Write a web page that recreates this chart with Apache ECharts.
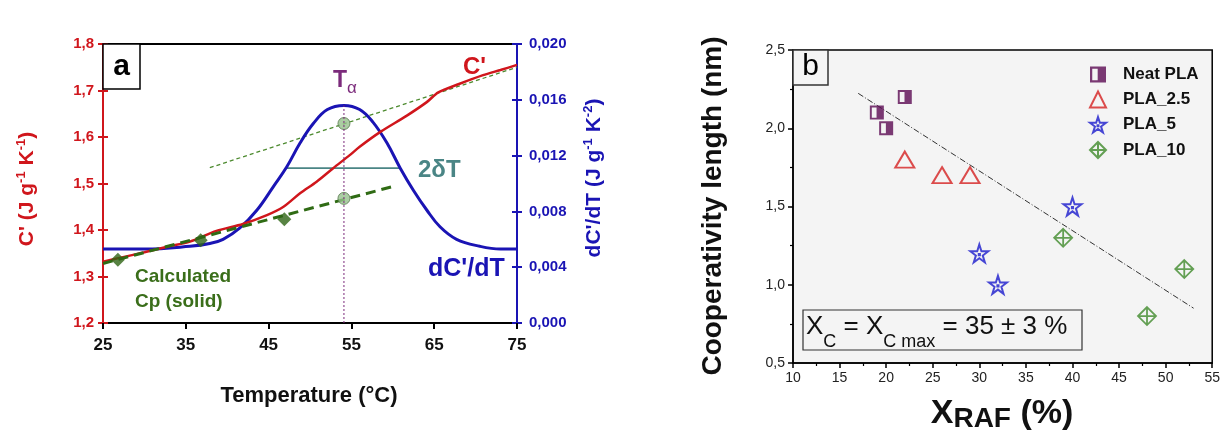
<!DOCTYPE html>
<html><head><meta charset="utf-8">
<script src="https://cdn.jsdelivr.net/npm/echarts@6/dist/echarts.min.js"></script>
<style>html,body{margin:0;padding:0;background:#fff}#c{width:1223px;height:433px}</style>
</head><body><div id="c"></div>
<script>
// ---------- Panel a data ----------
const tempC = [25, 27, 30, 33, 35.5, 38.7, 41.9, 44.8, 46.8, 48.8, 50.8, 52.8, 54.8, 56.0, 58.5, 61.7, 64.1, 65.5, 68, 70.9, 73, 75];
const cPrime = [1.332, 1.340, 1.352, 1.365, 1.375, 1.398, 1.413, 1.432, 1.450, 1.479, 1.504, 1.533, 1.561, 1.579, 1.611, 1.646, 1.675, 1.696, 1.714, 1.733, 1.744, 1.755];
const tempD = [25, 30, 35.5, 37.9, 39.5, 41.5, 43.6, 45.6, 47.2, 48.8, 50.4, 52.1, 54.1, 56.0, 57.6, 59.3, 60.9, 62.5, 64.1, 65.7, 67.7, 70.5, 73, 75];
const dCdT = [0.0053, 0.0053, 0.0055, 0.0057, 0.0060, 0.0068, 0.0081, 0.0098, 0.0112, 0.0129, 0.0143, 0.0153, 0.0156, 0.0153, 0.0144, 0.0129, 0.0111, 0.0095, 0.0081, 0.0069, 0.0060, 0.0055, 0.0053, 0.0053];
const cpPointsT = [26.8, 36.8, 46.9];
const cpPoints = [1.336, 1.378, 1.423];
const cpLineT = [25, 59.9];
const cpLine = [1.328, 1.493];
const liquidLineT = [37.9, 75];
const liquidLine = [1.534, 1.750];
const tAlpha = 54.1;
const tAlphaC = [1.629, 1.468];
const peakLevel = 0.0156;
const halfWidthT = [47.2, 60.9];
const halfWidthLevel = 0.0111;
const tempTicks = [25, 75, 10];
const cTicks = [1.2, 1.8, 0.1];
const dTicks = [0, 0.020, 0.004];

// ---------- Panel b data ----------
const neatX = [19, 20, 22];      const neatY = [2.1, 2.0, 2.2];
const pla25X = [22, 26, 29];     const pla25Y = [1.8, 1.7, 1.7];
const pla5X = [30, 32, 40];      const pla5Y = [1.2, 1.0, 1.5];
const pla10X = [39, 48, 52];     const pla10Y = [1.3, 0.8, 1.1];
const fitX = [17.0, 53.0];       const fitY = [2.223, 0.850];
const rafTicks = [10, 55, 5];
const lenTicks = [0.5, 2.5, 0.5];
const legendNames = ['Neat PLA', 'PLA_2.5', 'PLA_5', 'PLA_10'];

const zip = (a, b) => a.map((v, i) => [v, b[i]]);
const FONT = "'Liberation Sans', Arial, sans-serif";
const RED = '#d0161c', BLUE = '#1a14b4', GREEN = '#2f6b14', PURPLE = '#7b2a7b', TEAL = '#4a8585';
const comma = d => v => v.toFixed(d).replace('.', ',');

// text runs with sub/superscripts, laid out by measured widths
const mctx = document.createElement('canvas').getContext('2d');
function textRun(x, y, rotation, align, pieces) {
  const widths = pieces.map(p => { mctx.font = p.font; return mctx.measureText(p.text).width; });
  const total = widths.reduce((a, b) => a + b, 0);
  let cx = align === 'center' ? -total / 2 : 0;
  const children = pieces.map((p, i) => {
    const el = {type: 'text', x: cx, y: p.dy || 0, z: 11,
      style: {text: p.text, font: p.font, fill: p.fill, align: 'left', verticalAlign: 'middle'}};
    cx += widths[i];
    return el;
  });
  return {type: 'group', x: x, y: y, rotation: rotation || 0, children: children};
}

const chart = echarts.init(document.getElementById('c'), null, {renderer: 'canvas'});

const halfSquare = 'path://M0,0 L100,0 L100,100 L0,100 Z M14,14 L14,86 L48,86 L48,14 Z';
const starPath = 'path://M50,2 L61,36 L97,36 L68,58 L79,93 L50,72 L21,93 L32,58 L3,36 L39,36 Z M47,50 L53,50 L53,56 L47,56 Z';
const diamondCross = 'path://M50,0 L100,50 L50,100 L0,50 Z M50,0 L50,100 M0,50 L100,50';
const BG_B = '#f4f4f4';

const fB = s => 'bold ' + s + 'px ' + FONT;
const fN = s => s + 'px ' + FONT;

const option = {
  animation: false,
  backgroundColor: '#fff',
  textStyle: {fontFamily: FONT},
  grid: [
    {left: 103, top: 44, width: 414, height: 279, show: true, borderColor: '#000', borderWidth: 2, backgroundColor: 'transparent'},
    {left: 793, top: 50, width: 421, height: 313, show: true, borderColor: '#000', borderWidth: 1.5, backgroundColor: BG_B}
  ],
  xAxis: [
    {gridIndex: 0, type: 'value', min: tempTicks[0], max: tempTicks[1], interval: tempTicks[2],
     axisLine: {lineStyle: {color: '#000', width: 2}},
     axisTick: {length: 6, lineStyle: {color: '#000', width: 2}},
     axisLabel: {fontSize: 17, fontWeight: 'bold', color: '#111', margin: 14, fontFamily: FONT},
     splitLine: {show: false}},
    {gridIndex: 1, type: 'value', min: rafTicks[0], max: rafTicks[1], interval: rafTicks[2],
     axisLine: {lineStyle: {color: '#000', width: 1.5}},
     axisTick: {length: 5, lineStyle: {color: '#000', width: 1.5}},
     minorTick: {show: true, splitNumber: 2, length: 3, lineStyle: {color: '#000', width: 1.2}},
     axisLabel: {fontSize: 14, color: '#222', margin: 8, fontFamily: FONT},
     splitLine: {show: false}, minorSplitLine: {show: false}}
  ],
  yAxis: [
    {gridIndex: 0, type: 'value', position: 'left', min: cTicks[0], max: cTicks[1], interval: cTicks[2],
     axisLine: {show: true, lineStyle: {color: RED, width: 2}},
     axisTick: {show: true, length: 5, lineStyle: {color: RED, width: 2}},
     axisLabel: {fontSize: 15, fontWeight: 'bold', color: RED, margin: 9, formatter: comma(1), fontFamily: FONT},
     splitLine: {show: false}},
    {gridIndex: 0, type: 'value', position: 'right', min: dTicks[0], max: dTicks[1], interval: dTicks[2],
     axisLine: {show: true, lineStyle: {color: BLUE, width: 2}},
     axisTick: {show: true, length: 5, lineStyle: {color: BLUE, width: 2}},
     axisLabel: {fontSize: 15, fontWeight: 'bold', color: BLUE, margin: 12, formatter: comma(3), fontFamily: FONT},
     splitLine: {show: false}},
    {gridIndex: 0, type: 'value', position: 'left', min: cTicks[0], max: cTicks[1], interval: cTicks[2],
     axisLine: {show: true, lineStyle: {color: RED, width: 2}},
     axisTick: {show: true, inside: true, length: 5, lineStyle: {color: RED, width: 2}},
     axisLabel: {show: false}, splitLine: {show: false}},
    {gridIndex: 0, type: 'value', position: 'right', min: dTicks[0], max: dTicks[1], interval: dTicks[2],
     axisLine: {show: true, lineStyle: {color: BLUE, width: 2}},
     axisTick: {show: true, inside: true, length: 5, lineStyle: {color: BLUE, width: 2}},
     axisLabel: {show: false}, splitLine: {show: false}},
    {gridIndex: 1, type: 'value', min: lenTicks[0], max: lenTicks[1], interval: lenTicks[2],
     axisLine: {show: true, lineStyle: {color: '#000', width: 1.5}},
     axisTick: {show: true, length: 5, lineStyle: {color: '#000', width: 1.5}},
     minorTick: {show: true, splitNumber: 2, length: 3, lineStyle: {color: '#000', width: 1.2}},
     axisLabel: {fontSize: 14, color: '#222', margin: 8, formatter: comma(1), fontFamily: FONT},
     splitLine: {show: false}, minorSplitLine: {show: false}}
  ],
  legend: {
    orient: 'vertical', left: 1084, top: 61, itemWidth: 16, itemHeight: 16, itemGap: 7.5,
    data: legendNames,
    textStyle: {fontSize: 17, fontWeight: 'bold', color: '#111', padding: [0, 0, 0, 12], fontFamily: FONT}
  },
  series: [
    // ----- panel a -----
    {name: 'liquid', type: 'line', xAxisIndex: 0, yAxisIndex: 0, data: zip(liquidLineT, liquidLine), symbol: 'none',
     lineStyle: {color: '#4c8a2e', width: 1.3, type: [4, 3]}, z: 2},
    {name: '2dT', type: 'line', xAxisIndex: 0, yAxisIndex: 1, data: halfWidthT.map(t => [t, halfWidthLevel]), symbol: 'none',
     lineStyle: {color: TEAL, width: 1.6}, z: 2},
    {name: "dC'/dT", type: 'line', xAxisIndex: 0, yAxisIndex: 1, data: zip(tempD, dCdT), symbol: 'none', smooth: 0.4,
     lineStyle: {color: BLUE, width: 3}, z: 3},
    {name: "C'", type: 'line', xAxisIndex: 0, yAxisIndex: 0, data: zip(tempC, cPrime), symbol: 'none', smooth: 0.3,
     lineStyle: {color: RED, width: 2.5}, z: 4},
    {name: 'Cp line', type: 'line', xAxisIndex: 0, yAxisIndex: 0, data: zip(cpLineT, cpLine), symbol: 'none',
     lineStyle: {color: GREEN, width: 3, type: [10, 6]}, z: 5},
    {name: 'Cp solid', type: 'scatter', xAxisIndex: 0, yAxisIndex: 0, data: zip(cpPointsT, cpPoints), symbol: 'diamond', symbolSize: [14, 14],
     itemStyle: {color: '#2e6414'}, z: 6},
    {name: 'Tα points', type: 'scatter', xAxisIndex: 0, yAxisIndex: 0, data: tAlphaC.map(c => [tAlpha, c]), symbol: 'circle', symbolSize: 12,
     itemStyle: {color: '#96c08c', borderColor: '#56784c', borderWidth: 1}, z: 6},
    {name: 'Tα line', type: 'line', xAxisIndex: 0, yAxisIndex: 1, data: [[tAlpha, 0], [tAlpha, peakLevel]], symbol: 'none',
     lineStyle: {color: PURPLE, width: 1, type: [2, 2]}, z: 7},
    // ----- panel b -----
    {name: 'fit', type: 'line', xAxisIndex: 1, yAxisIndex: 4, data: zip(fitX, fitY), symbol: 'none',
     lineStyle: {color: '#333', width: 1, type: [6, 2, 1, 2]}, z: 2},
    {name: 'Neat PLA', type: 'scatter', xAxisIndex: 1, yAxisIndex: 4, data: zip(neatX, neatY), symbol: halfSquare, symbolSize: 14,
     itemStyle: {color: '#5b0a52'}, z: 5},
    {name: 'PLA_2.5', type: 'scatter', xAxisIndex: 1, yAxisIndex: 4, data: zip(pla25X, pla25Y), symbol: 'triangle', symbolSize: [19, 16],
     itemStyle: {color: BG_B, borderColor: '#d42020', borderWidth: 2}, z: 5},
    {name: 'PLA_5', type: 'scatter', xAxisIndex: 1, yAxisIndex: 4, data: zip(pla5X, pla5Y), symbol: starPath, symbolSize: 18,
     itemStyle: {color: BG_B, borderColor: '#1a1acc', borderWidth: 2}, z: 5},
    {name: 'PLA_10', type: 'scatter', xAxisIndex: 1, yAxisIndex: 4, data: zip(pla10X, pla10Y), symbol: diamondCross, symbolSize: 18,
     itemStyle: {color: BG_B, borderColor: '#3f8a2a', borderWidth: 1.8}, z: 5}
  ],
  graphic: [
    // panel a label box
    {type: 'rect', shape: {x: 103, y: 44, width: 37, height: 45}, style: {fill: '#fff', stroke: '#000', lineWidth: 1.5}, z: 10},
    {type: 'text', x: 121.5, y: 67, style: {text: 'a', font: fB(30), fill: '#000', align: 'center', verticalAlign: 'middle'}, z: 11},
    // panel a annotations
    textRun(333, 81, 0, 'left', [
      {text: 'T', font: fB(23), fill: PURPLE},
      {text: 'α', font: fN(17), fill: PURPLE, dy: 7}]),
    {type: 'text', x: 463, y: 67, style: {text: "C'", font: fB(24), fill: RED, align: 'left', verticalAlign: 'middle'}, z: 11},
    {type: 'text', x: 418, y: 170, style: {text: '2δT', font: fB(24), fill: TEAL, align: 'left', verticalAlign: 'middle'}, z: 11},
    {type: 'text', x: 428, y: 269, style: {text: "dC'/dT", font: fB(25), fill: BLUE, align: 'left', verticalAlign: 'middle'}, z: 11},
    {type: 'text', x: 135, y: 264, style: {text: 'Calculated\nCp (solid)', font: fB(19), fill: '#3a6e1a', align: 'left', verticalAlign: 'top', lineHeight: 25}, z: 11},
    // panel a axis names
    {type: 'text', x: 309, y: 396, style: {text: 'Temperature (°C)', font: fB(22), fill: '#111', align: 'center', verticalAlign: 'middle'}, z: 11},
    textRun(27, 189, Math.PI / 2, 'center', [
      {text: "C' (J g", font: fB(21), fill: RED},
      {text: '-1', font: fB(13), fill: RED, dy: -6},
      {text: ' K', font: fB(21), fill: RED},
      {text: '-1', font: fB(13), fill: RED, dy: -6},
      {text: ')', font: fB(21), fill: RED}]),
    textRun(594, 178, Math.PI / 2, 'center', [
      {text: "dC'/dT (J g", font: fB(21), fill: BLUE},
      {text: '-1', font: fB(13), fill: BLUE, dy: -6},
      {text: ' K', font: fB(21), fill: BLUE},
      {text: '-2', font: fB(13), fill: BLUE, dy: -6},
      {text: ')', font: fB(21), fill: BLUE}]),
    // panel b label box
    {type: 'rect', shape: {x: 793, y: 50, width: 35, height: 35}, style: {fill: BG_B, stroke: '#333', lineWidth: 1.5}, z: 10},
    {type: 'text', x: 810.5, y: 67, style: {text: 'b', font: fN(30), fill: '#000', align: 'center', verticalAlign: 'middle'}, z: 11},
    // X_C box
    {type: 'rect', shape: {x: 803, y: 310, width: 279, height: 40}, style: {fill: 'none', stroke: '#333', lineWidth: 1.2}, z: 10},
    textRun(806, 327, 0, 'left', [
      {text: 'X', font: fN(26), fill: '#111'},
      {text: 'C', font: fN(18), fill: '#111', dy: 15},
      {text: ' = X', font: fN(26), fill: '#111'},
      {text: 'C max', font: fN(18), fill: '#111', dy: 15},
      {text: ' = 35 ± 3 %', font: fN(26), fill: '#111'}]),
    // panel b axis names
    {type: 'text', x: 713, y: 206, rotation: Math.PI / 2, style: {text: 'Cooperativity length (nm)', font: fB(28), fill: '#111', align: 'center', verticalAlign: 'middle'}, z: 11},
    textRun(1002, 414, 0, 'center', [
      {text: 'X', font: fB(34), fill: '#111'},
      {text: 'RAF', font: fB(28), fill: '#111', dy: 5},
      {text: ' (%)', font: fB(34), fill: '#111'}])
  ]
};
chart.setOption(option);
</script>
</body></html>
